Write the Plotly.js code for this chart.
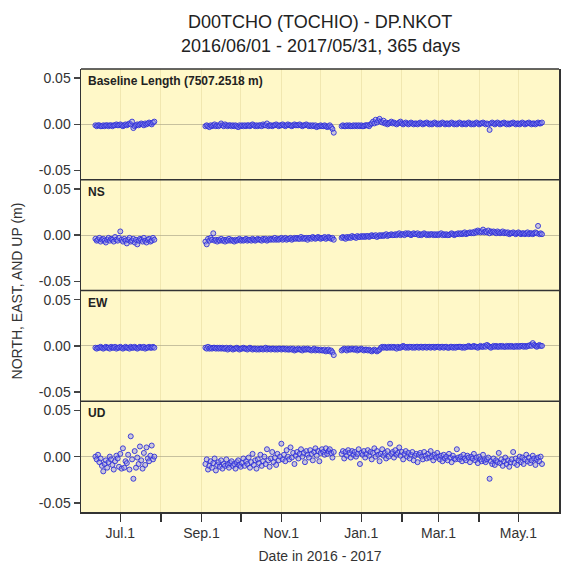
<!DOCTYPE html>
<html>
<head>
<meta charset="utf-8">
<script src="https://cdn.plot.ly/plotly-3.0.1.min.js"></script>
<style>html,body{margin:0;padding:0;background:#fff;}#chart{width:561px;height:567px;}</style>
</head>
<body>
<div id="chart"></div>
<script>
// Segment start dates (daily solutions)
const segStarts = ['2016-06-12', '2016-09-04', '2016-12-17'];

// Values in mm, per segment
const baseline1 = [-1,-2,-1,-1,-2,-2,-1,-2,-1,-1,-2,-1,-1,-2,-1,-1,0,-1,-1,0,-1,-2,-1,0,-1,0,1,0,3,-4,-2,-1,0,-1,0,1,0,-1,1,0,1,2,1,0,2,3];
const baseline2 = [-2,-1,-2,-3,-1,-2,-1,0,-2,-1, -2,-1,1,-1,-2,0,-1,-2,-1,-1, -2,-1,-2,-1,-2,-3,-1,-2,-1,-2, -1,-2,-1,-1,-2,-1,0,-1,-2,-1, -2,-1,-1,-2,0,-1,-1,1,-2,-1, -1,-2,-1,-1,0,-1,-2,-1,-1,0, -1,-2,-1,0,-1,-1,-2,-1,0,-1, -1,-1,0,-1,-2,-1,-1,0,-1,-2, -1,-2,-1,-2,-1,-3,-2,-2,-1,-2, -2,-1,-2,-3,-2,-1,-3,-5,-9];
const baseline3 = [-2,-1,-2,-2,-1,-2,-1,-2,-2,-1, -2,-1,-2,-1,-2,-1,-2,-2,-1,-1, -1,-2,0,1,3,1,5,2,4,6, 3,2,4,1,2,0,1,2,3,1, 2,1,0,1,2,3,1,0,1,2, 1,0,1,2,1,0,1,1,0,1, 2,1,0,1,1,2,1,0,1,0, 1,2,1,0,1,0,1,2,1,0, 1,1,0,1,2,1,0,1,0,1, 2,1,0,1,1,0,1,2,1,0, 1,0,1,2,1,0,1,1,2,1, 0,1,0,-6,1,2,1,0,1,2, 1,0,1,1,2,1,0,1,0,1, 1,2,1,0,1,1,0,1,2,1, 0,1,1,2,1,0,1,1,0,1, 2,1,1,2];

const ns1 = [-4,-6,-5,-3,-7,-5,-4,-6,-8,-5, -3,-6,-4,-5,-7,-2,-5,-6,-3,4, -5,-7,-4,-6,-9,-5,-3,-7,-6,-4, -8,-5,-10,-6,-4,-5,-7,-3,-6,-8, -5,-4,-7,-6,-3,-5];
const ns2 = [-7,-10,-4,-6,-3,-5,2,-6,-5,-7, -5,-6,-4,-6,-5,-7,-5,-6,-4,-6, -5,-6,-7,-5,-6,-5,-4,-6,-5,-6, -5,-4,-6,-5,-5,-6,-4,-5,-6,-5, -4,-5,-5,-6,-4,-5,-4,-6,-5,-4, -5,-4,-5,-3,-5,-4,-5,-4,-3,-5, -4,-3,-5,-4,-4,-3,-5,-4,-3,-4, -3,-4,-4,-2,-4,-3,-4,-3,-5,-3, -3,-4,-2,-3,-4,-3,-2,-3,-4,-3, -3,-2,-4,-3,-2,-3,-4,-3,-5];
const ns3 = [-3,-2,-3,-4,-2,-3,-2,-3,-1,-2, -2,-3,-1,-2,-2,-1,-2,-1,-2,-1, -1,-2,-1,0,-1,-1,0,-2,-1,0, -1,0,-1,0,1,-1,0,0,1,0, 0,1,0,1,2,0,1,1,0,2, 1,2,1,0,1,2,1,1,2,0, 1,0,1,2,1,0,1,0,1,1, 0,1,0,1,0,1,2,0,1,0, 1,0,0,1,2,1,0,1,1,2, 1,2,1,2,3,1,2,2,3,2, 3,2,4,3,5,4,3,4,6,3, 4,3,5,2,4,3,4,3,2,4, 3,2,3,4,2,3,2,3,1,2, 2,3,2,1,2,3,2,1,2,2, 1,2,3,1,2,2,1,2,3,2, 10,1,2,1];

const ew1 = [-2,-3,-2,-2,-1,-2,-3,-2,-1,-2, -2,-3,-1,-2,-2,-1,-3,-2,-2,-1, -2,-3,-2,-1,-2,-2,-3,-1,-2,-2, -1,-2,-3,-2,-1,-2,-2,-1,-3,-2, -2,-1,-2,-2,-1,-2];
const ew2 = [-2,-3,-1,-3,-2,-3,-2,-2,-3,-2, -3,-2,-3,-2,-3,-3,-2,-4,-3,-2, -3,-4,-3,-3,-2,-3,-4,-3,-3,-2, -3,-3,-4,-3,-2,-3,-4,-3,-3,-4, -3,-4,-3,-3,-4,-3,-2,-4,-3,-3, -4,-3,-3,-4,-3,-4,-3,-3,-4,-3, -3,-4,-3,-4,-4,-3,-4,-3,-5,-4, -4,-3,-4,-4,-5,-3,-4,-4,-3,-4, -4,-5,-4,-3,-5,-4,-4,-5,-4,-5, -5,-4,-6,-5,-4,-6,-5,-7,-10];
const ew3 = [-5,-4,-3,-4,-5,-3,-4,-4,-3,-4, -4,-3,-5,-4,-4,-3,-4,-5,-4,-4, -5,-4,-5,-6,-5,-4,-5,-6,-5,-4, -2,-1,-2,-1,-2,-2,-1,-2,-1,-2, -1,-2,-3,-1,-2,-2,-1,0,-1,-2, -1,-2,-1,-1,-2,-1,-2,-1,-1,-2, -1,-1,-2,-1,-1,-2,-1,-1,-2,-1, -1,-2,-1,-1,-1,-2,-1,-1,-2,-1, -1,-2,-2,-1,-1,-2,-1,-2,-1,-1, -1,-1,-2,-1,-2,-1,-1,0,-1,-1, -1,0,-1,-1,-2,-1,0,-1,-1,0, -1,1,0,-1,-2,-1,0,-1,0,-1, -1,0,-1,0,-1,-1,0,-1,0,-1, 0,-1,-1,0,-1,0,-1,0,0,-1, 0,-1,0,0,1,0,3,1,0,-1, 0,1,0,0];

const ud1 = [0,-3,2,-6,-2,-10,-16,-8,-4,-12, -6,0,-3,-9,-14,-5,1,-2,-11,3, -13,9,-12,-5,-7,2,-14,22,-3,-24, 6,-12,-1,-8,11,-4,-13,4,-9,10, -2,-5,1,12,-3,0];
const ud2 = [-8,-3,-14,-10,-5,-12,-7,-2,-15,-9, -6,-11,-4,-13,-8,-10,-3,-9,-12,-7, -5,-10,-8,-13,-6,-4,-9,-11,-7,-2, -10,-5,-8,-1,-12,-6,3,-9,-4,-13, -3,-7,2,-10,-5,0,-8,8,-4,-11, -2,5,-6,-1,-9,3,-4,0,14,-3, 2,-5,7,0,-3,10,-1,4,-8,1, 5,-2,3,8,0,4,-6,6,2,-1, 7,3,-4,5,9,1,6,-5,4,8, 5,2,9,3,6,8,4,-1,5];
const ud3 = [3,6,-2,5,1,7,4,-1,6,2, 5,0,3,8,-8,4,2,6,-1,3, 7,1,5,-3,4,9,0,6,2,-5, 3,8,1,4,-2,6,0,14,3,5, -1,7,2,4,10,1,5,-3,3,6, 0,4,-2,2,5,-4,1,3,-6,2, 4,0,-3,5,1,-2,3,-1,6,0, -4,2,-1,4,0,-3,1,-5,2,-2, 0,-4,3,-1,-6,1,-2,-3,8,-1, -3,0,-5,2,-2,-4,1,-1,-6,0, -2,3,-4,-1,-7,0,-3,-5,2,-4, -6,-3,-1,-24,-5,-8,-2,-9,-4,-6, 4,-7,-3,-10,-5,-1,-8,-4,-11,-6, -3,5,-7,-2,-9,-4,0,-6,-1,-8, -3,2,-5,-1,-7,-4,1,-2,-9,-3, -1,-5,0,-8];

const titleLines = ['D00TCHO (TOCHIO) - DP.NKOT', '2016/06/01 - 2017/05/31, 365 days'];
const panelLabels = ['Baseline Length (7507.2518 m)', 'NS', 'EW', 'UD'];
const monthTicks = ['2016-07-01','2016-08-01','2016-09-01','2016-10-01','2016-11-01','2016-12-01','2017-01-01','2017-02-01','2017-03-01','2017-04-01','2017-05-01'];
const monthText = ['Jul.1','','Sep.1','','Nov.1','','Jan.1','','Mar.1','','May.1'];
const yTicks = [-0.05, 0, 0.05];
const yText = ['-0.05', '0.00', '0.05'];

function dayStr(start, i) {
  const d = new Date(start + 'T00:00:00Z');
  d.setUTCDate(d.getUTCDate() + i);
  return d.toISOString().slice(0, 10);
}
function build(segs) {
  const x = [], y = [];
  segs.forEach((vals, s) => {
    vals.forEach((v, i) => { x.push(dayStr(segStarts[s], i)); y.push(v / 1000); });
  });
  return {x, y};
}

const series = [
  build([baseline1, baseline2, baseline3]),
  build([ns1, ns2, ns3]),
  build([ew1, ew2, ew3]),
  build([ud1, ud2, ud3])
];

const FONT = 'Liberation Sans, Arial, Helvetica, sans-serif';
const domains = [[0.75, 1], [0.5, 0.75], [0.25, 0.5], [0, 0.25]];

const traces = series.map((s, k) => ({
  x: s.x, y: s.y, type: 'scatter', mode: 'markers',
  xaxis: 'x', yaxis: k === 0 ? 'y' : 'y' + (k + 1),
  marker: {size: 5, color: 'rgba(140,140,240,0.45)', line: {color: '#3030d8', width: 0.9}},
  hoverinfo: 'x+y', showlegend: false
}));

const layout = {
  width: 561, height: 567,
  margin: {l: 81, r: 2, t: 69, b: 55},
  paper_bgcolor: '#ffffff', plot_bgcolor: '#FFF8C8',
  font: {family: FONT, color: '#333', size: 14},
  xaxis: {
    type: 'date', range: ['2016-06-01', '2017-06-01'], anchor: 'y4',
    tickmode: 'array', tickvals: monthTicks, ticktext: monthText,
    ticks: 'outside', ticklen: 8, tickwidth: 1.5, tickcolor: '#333',
    showgrid: true, gridcolor: 'rgba(220,205,140,0.4)', gridwidth: 1,
    showline: true, linecolor: '#333', linewidth: 1.5,
    zeroline: false,
    tickfont: {family: FONT, size: 14, color: '#333'},
    title: {text: 'Date in 2016 - 2017', font: {family: FONT, size: 14, color: '#333'}, standoff: 11}
  },
  shapes: [],
  annotations: [{
    text: 'NORTH, EAST, AND UP (m)', xref: 'paper', yref: 'paper',
    x: -0.134, y: 0.5, textangle: -90, showarrow: false,
    xanchor: 'center', yanchor: 'middle',
    font: {family: FONT, size: 14, color: '#333'}
  }, {
    text: titleLines[0], xref: 'paper', yref: 'paper', x: 0.5, y: 1 + (69 - 22) / 443,
    xanchor: 'center', yanchor: 'middle', showarrow: false,
    font: {family: FONT, size: 18, color: '#222'}
  }, {
    text: titleLines[1], xref: 'paper', yref: 'paper', x: 0.5, y: 1 + (69 - 46) / 443,
    xanchor: 'center', yanchor: 'middle', showarrow: false,
    font: {family: FONT, size: 18, color: '#222'}
  }]
};

domains.forEach((dom, k) => {
  const name = k === 0 ? 'yaxis' : 'yaxis' + (k + 1);
  layout[name] = {
    domain: dom, anchor: 'x', range: [-0.06, 0.06],
    tickmode: 'array', tickvals: yTicks, ticktext: yText,
    ticks: 'outside', ticklen: 6, tickwidth: 1.5, tickcolor: '#444',
    showgrid: false, zeroline: true, zerolinecolor: 'rgba(175,170,140,0.7)', zerolinewidth: 1,
    showline: true, linecolor: '#333', linewidth: 1.5, mirror: true,
    tickfont: {family: FONT, size: 14, color: '#333'}
  };
  layout.shapes.push({
    type: 'line', xref: 'paper', yref: 'paper', x0: 0, x1: 1, y0: dom[1], y1: dom[1],
    line: {color: '#333', width: 1.5}
  });
  layout.annotations.push({
    text: '<b>' + panelLabels[k] + '</b>', xref: 'paper', yref: 'paper',
    x: 0.01, y: dom[1], xanchor: 'left', yanchor: 'top', yshift: -3, showarrow: false,
    font: {family: FONT, size: 12, color: '#222'}
  });
});

Plotly.newPlot('chart', traces, layout, {staticPlot: true, displayModeBar: false});
</script>
</body>
</html>
